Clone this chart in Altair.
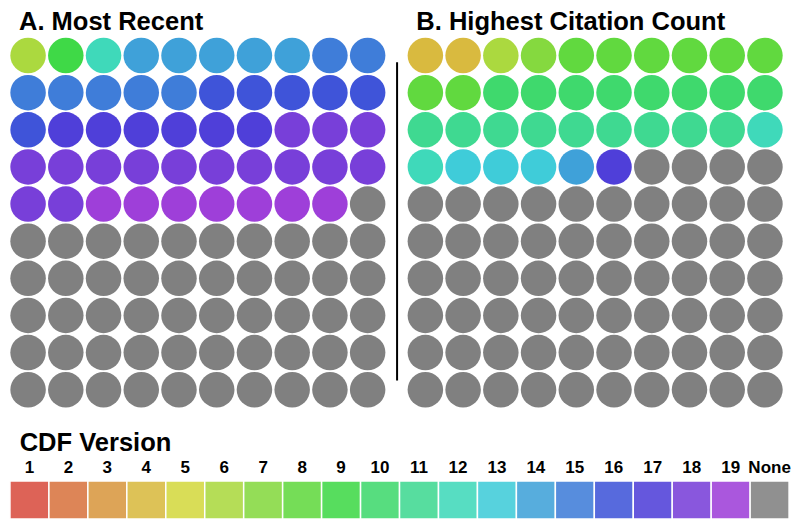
import colorsys
import altair as alt
import pandas as pd

# ---------------- data ----------------
versions = [str(v) for v in range(1, 20)] + ["None"]
panel_titles = ["A. Most Recent", "B. Highest Citation Count"]
legend_title = "CDF Version"

# CDF version of each paper, row by row (10 per row); remaining cells are "None"
most_recent = [6, 9, 12, 14, 14, 14, 14, 14, 15, 15,
               15, 15, 15, 15, 15, 16, 16, 16, 16, 16,
               16, 17, 17, 17, 17, 17, 17, 18, 18, 18,
               18, 18, 18, 18, 18, 18, 18, 18, 18, 18,
               18, 18, 19, 19, 19, 19, 19, 19, 19]
highest_citation = [4, 4, 6, 7, 8, 8, 8, 8, 8, 8,
                    8, 8, 10, 10, 10, 10, 10, 10, 10, 10,
                    11, 11, 11, 11, 11, 11, 11, 11, 11, 12,
                    12, 13, 13, 13, 14, 17]
grid_n = 10

# ---------------- style ----------------
hues = [5, 20, 34, 48, 62, 78, 93, 107, 123, 138, 152, 168, 185, 202, 216, 232, 246, 262, 277]
palette = []
for h in hues:
    r, g, b = colorsys.hls_to_rgb(h / 360, 0.55, 0.67)
    palette.append("#%02x%02x%02x" % (round(r * 255), round(g * 255), round(b * 255)))
palette.append("#808080")

panel_offsets = [0.0, 10.53]
FONT = "Liberation Sans"
W, H = 784, 512
x_dom = [-0.532, 20.247]
leg_dom = [-0.05, 20.075]
y_dom = [-1.279, 12.507]

# ---------------- tables ----------------
rows = []
for p, series in enumerate([most_recent, highest_citation]):
    for i in range(grid_n * grid_n):
        v = str(series[i]) if i < len(series) else "None"
        rows.append({"panel": p, "gx": (i % grid_n) + panel_offsets[p],
                     "row": i // grid_n, "version": v})
circles_df = pd.DataFrame(rows)

titles_df = pd.DataFrame({"text": panel_titles,
                          "x": [o - 0.24 for o in panel_offsets],
                          "y": [-0.68, -0.68]})
rule_df = pd.DataFrame({"x": [9.78], "y": [0.18], "y2": [8.75]})
legend_df = pd.DataFrame({"version": versions,
                          "i": list(range(len(versions))),
                          "i2": [k + 1 for k in range(len(versions))],
                          "ic": [k + 0.5 for k in range(len(versions))],
                          "y": [11.46] * len(versions), "y2": [12.48] * len(versions),
                          "ly": [11.25] * len(versions)})
legend_title_df = pd.DataFrame({"text": [legend_title], "x": [0.25], "y": [10.65]})

xs = alt.Scale(domain=x_dom, nice=False, zero=False)
ls = alt.Scale(domain=leg_dom, nice=False, zero=False)
ys = alt.Scale(domain=y_dom, nice=False, zero=False, reverse=True)
cs = alt.Scale(domain=versions, range=palette)

circles = alt.Chart(circles_df).mark_circle(size=1260, opacity=1).encode(
    x=alt.X("gx:Q", scale=xs, axis=None),
    y=alt.Y("row:Q", scale=ys, axis=None),
    color=alt.Color("version:N", scale=cs, legend=None),
)

titles = alt.Chart(titles_df).mark_text(
    align="left", baseline="alphabetic", fontSize=25.5, fontWeight="bold", font=FONT, color="black"
).encode(
    x=alt.X("x:Q", scale=xs, axis=None),
    y=alt.Y("y:Q", scale=ys, axis=None),
    text="text:N",
)

rule = alt.Chart(rule_df).mark_rule(color="black", strokeWidth=2).encode(
    x=alt.X("x:Q", scale=xs, axis=None),
    y=alt.Y("y:Q", scale=ys, axis=None),
    y2="y2:Q",
)

leg_rect = alt.Chart(legend_df).mark_rect(opacity=0.87, stroke="white", strokeWidth=1.5).encode(
    x=alt.X("i:Q", scale=ls, axis=None),
    x2="i2:Q",
    y=alt.Y("y:Q", scale=ys, axis=None),
    y2="y2:Q",
    color=alt.Color("version:N", scale=cs, legend=None),
)

leg_labels = alt.Chart(legend_df).mark_text(
    align="center", baseline="alphabetic", fontSize=17, fontWeight="bold", font=FONT, color="black"
).encode(
    x=alt.X("ic:Q", scale=ls, axis=None),
    y=alt.Y("ly:Q", scale=ys, axis=None),
    text="version:N",
)

leg_title = alt.Chart(legend_title_df).mark_text(
    align="left", baseline="alphabetic", fontSize=25.5, fontWeight="bold", font=FONT, color="black"
).encode(
    x=alt.X("x:Q", scale=ls, axis=None),
    y=alt.Y("y:Q", scale=ys, axis=None),
    text="text:N",
)

chart = alt.layer(circles, titles, rule, leg_rect, leg_labels, leg_title).resolve_scale(
    x="independent"
).properties(
    width=W, height=H, padding=0,
    autosize=alt.AutoSizeParams(type="none"),
    background="white",
).configure_view(strokeWidth=0)

chart.save("out.html", embed_options={"renderer": "svg", "actions": False})
